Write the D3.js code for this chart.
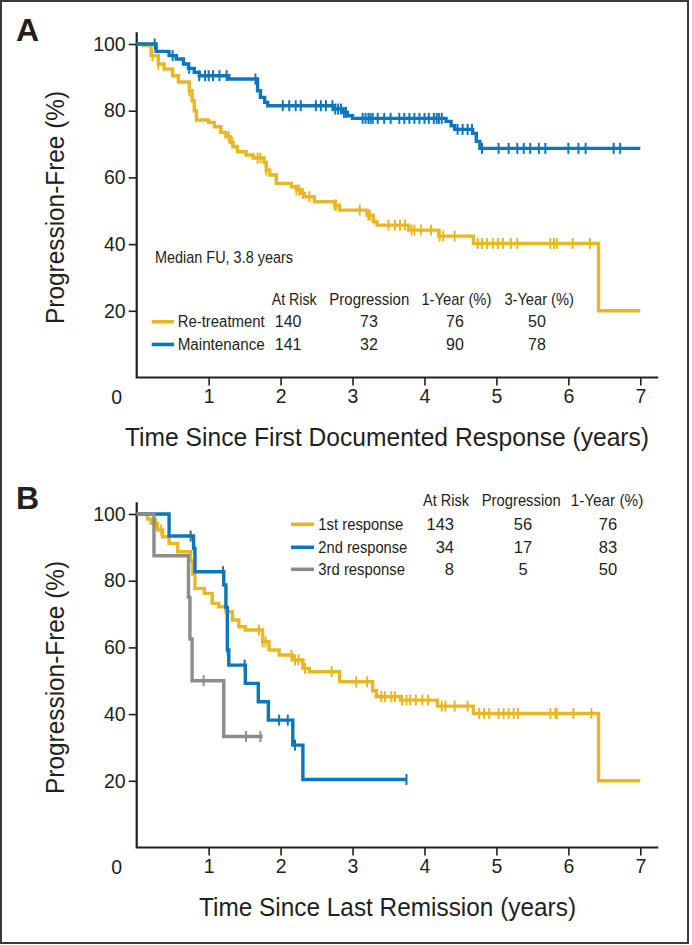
<!DOCTYPE html>
<html><head><meta charset="utf-8">
<script src="https://cdn.jsdelivr.net/npm/d3@7"></script>
<style>
html,body{margin:0;padding:0;background:#fff;}
svg{display:block;}
text{font-family:"Liberation Sans Narrow","Liberation Sans",Arial,sans-serif;fill:#231f20;}
</style></head>
<body><svg id="c" width="692" height="945"></svg>
<script>
// ---------- DATA ----------
const xTicks = [1,2,3,4,5,6,7];
const yTicks = [20,40,60,80,100];

// Panel A: Re-treatment (time in years, % progression-free)
const retreatA = [[0,100],[0.09,99.5],[0.2,96.5],[0.3,94],[0.38,92.5],[0.5,90.5],[0.58,88.6],[0.73,86],[0.77,83],[0.8,80],[0.83,77.2],[1.0,76.5],[1.08,75.2],[1.17,73.5],[1.24,72.2],[1.3,70.5],[1.34,69.2],[1.4,67.7],[1.52,66.7],[1.62,65.8],[1.77,64.5],[1.8,62.2],[1.85,60.7],[1.94,58.2],[2.15,57.2],[2.22,56.2],[2.28,55.2],[2.33,54.2],[2.47,52.7],[2.75,51.7],[2.82,50.2],[3.2,48.7],[3.29,46.7],[3.34,45.7],[3.78,44.2],[4.2,42.4],[4.68,40.2],[6.42,20],[7,20]];
const retreatACens = [0.22,0.3,0.73,1.28,1.33,1.68,1.72,1.8,2.22,2.26,2.31,2.4,2.75,2.77,3.1,3.22,3.24,3.5,3.59,3.66,3.73,3.82,3.86,3.95,4.09,4.21,4.26,4.42,4.74,4.8,4.87,4.95,5.02,5.09,5.2,5.29,5.75,5.8,5.84,6.06,6.3];
// Panel A: Maintenance
const maintA = [[0,100],[0.27,97.8],[0.45,96.5],[0.55,95.5],[0.65,94],[0.72,92.7],[0.8,91.5],[0.87,90.5],[1.28,89.5],[1.68,86],[1.72,84],[1.78,82.5],[1.82,81.5],[2.75,80.5],[2.85,79.5],[2.93,78.5],[3.0,77.7],[4.3,76.8],[4.37,75.5],[4.42,74.4],[4.67,73.2],[4.72,70.8],[4.77,68.7],[7,68.7]];
const maintACens = [0.25,0.5,0.73,0.87,0.95,1.0,1.06,1.15,1.25,1.65,2.03,2.12,2.21,2.28,2.49,2.56,2.63,2.72,2.76,2.8,2.84,2.88,2.91,3.14,3.18,3.22,3.25,3.28,3.35,3.44,3.53,3.65,3.72,3.79,3.86,3.93,4.0,4.06,4.13,4.17,4.2,4.24,4.46,4.53,4.6,4.66,4.8,5.03,5.17,5.29,5.38,5.47,5.59,5.68,6.0,6.14,6.24,6.63,6.72];

// Panel B
const firstB = [[0,100],[0.15,98.5],[0.2,97.2],[0.29,95.2],[0.36,93.2],[0.45,91.2],[0.57,88.7],[0.75,86],[0.78,82],[0.81,77.7],[0.94,76.2],[1.05,73.2],[1.14,72.2],[1.24,70.7],[1.33,68.2],[1.42,66.2],[1.51,65.2],[1.75,61.7],[1.84,59.2],[1.98,57.7],[2.17,56.2],[2.31,53.7],[2.4,52.7],[2.82,49.7],[3.28,47],[3.33,45.2],[3.67,44.2],[4.18,42.4],[4.68,40.2],[6.42,20],[7,20]];
const firstBCens = [0.27,0.34,1.7,1.75,1.79,2.15,2.2,2.25,2.34,2.71,3.05,3.2,3.4,3.45,3.54,3.59,3.69,3.75,3.8,3.88,3.97,4.05,4.24,4.29,4.42,4.6,4.76,4.83,4.9,5.03,5.1,5.17,5.24,5.3,5.75,5.82,5.84,6.07,6.32];
const secondB = [[0,100],[0.45,93.4],[0.79,89.7],[0.81,82.7],[1.21,78.7],[1.24,72],[1.26,59.2],[1.28,54.7],[1.51,49.2],[1.69,43.7],[1.83,38.2],[2.17,30.7],[2.31,20.4],[3.75,20.4]];
const secondBCens = [0.75,0.8,1.2,1.265,1.5,1.98,2.1,2.2,3.75];
const thirdB = [[0,100],[0.24,87.5],[0.72,75],[0.74,62.5],[0.77,50],[1.21,33.3],[1.75,33.3]];
const thirdBCens = [0.93,1.52,1.72];

const tableAHeaders = ["At Risk","Progression","1-Year (%)","3-Year (%)"];
const tableARows = [
  {name:"Re-treatment", vals:["140","73","76","50"]},
  {name:"Maintenance",  vals:["141","32","90","78"]}
];
const tableBHeaders = ["At Risk","Progression","1-Year (%)"];
const tableBRows = [
  {name:"1st response", vals:["143","56","76"]},
  {name:"2nd response", vals:["34","17","83"]},
  {name:"3rd response", vals:["8","5","50"]}
];

// ---------- STYLE ----------
const YELLOW = "#E9B722", BLUE = "#0B76BE", GRAY = "#8C8C8C", INK = "#231f20";

const svg = d3.select("#c");
svg.append("rect").attr("x",1).attr("y",1).attr("width",687).attr("height",942)
   .attr("fill","none").attr("stroke","#3a3a3a").attr("stroke-width",2);

const x = d3.scaleLinear().domain([0,7]).range([136.7,640.3]);

function txt(g, s, px, py, o={}) {
  const t = g.append("text").attr("x",px).attr("y",py).text(s)
    .style("font-size",(o.size||17)+"px");
  if (o.anchor) t.attr("text-anchor",o.anchor);
  if (o.len) t.attr("textLength",o.len).attr("lengthAdjust","spacingAndGlyphs");
  if (o.weight) t.style("font-weight",o.weight);
  if (o.family) t.style("font-family",o.family);
  return t;
}

function stepAt(data, t) {
  let v = data[0][1];
  for (const d of data) { if (d[0] <= t) v = d[1]; else break; }
  return v;
}

function panel(y, series, label, labelY, xTitle, xTitleX, xTitleLen) {
  const g = svg.append("g");
  const sans = '"Liberation Sans",Arial,sans-serif';
  // y axis
  const ya = g.append("g").attr("transform",`translate(${x(0)},0)`)
    .call(d3.axisLeft(y).tickValues(yTicks).tickFormat(d3.format("d")).tickSize(8).tickPadding(3).tickSizeOuter(0));
  ya.select(".domain").remove();
  ya.selectAll(".tick line").attr("stroke",INK).attr("stroke-width",1.6);
  ya.selectAll(".tick text").style("font-size","19.5px").style("font-family",sans).attr("fill",INK);
  // x axis
  const xa = g.append("g").attr("transform",`translate(0,${y(0)})`)
    .call(d3.axisBottom(x).tickValues(xTicks).tickFormat(d3.format("d")).tickSize(8).tickPadding(4).tickSizeOuter(0));
  xa.select(".domain").remove();
  xa.selectAll(".tick line").attr("stroke",INK).attr("stroke-width",1.6);
  xa.selectAll(".tick text").style("font-size","19.5px").style("font-family",sans).attr("fill",INK);
  // origin label
  txt(g,"0",x(0)-20,y(0)+26,{size:19.5,anchor:"middle",family:sans});
  // axis lines
  g.append("path").attr("d",`M${x(0)},${y(103.5)}V${y(0)}H${x(7.25)}`)
    .attr("fill","none").attr("stroke",INK).attr("stroke-width",2.2);
  // curves
  const line = d3.line().x(d=>x(d[0])).y(d=>y(d[1])).curve(d3.curveStepAfter);
  series.forEach(s=>{
    g.append("path").datum(s.data).attr("d",line).attr("fill","none")
      .attr("stroke",s.color).attr("stroke-width",3.4).attr("stroke-linejoin","miter");
    g.selectAll(null).data(s.cens).enter().append("line")
      .attr("x1",d=>x(d)).attr("x2",d=>x(d))
      .attr("y1",d=>y(stepAt(s.data,d))-5.5).attr("y2",d=>y(stepAt(s.data,d))+5.5)
      .attr("stroke",s.color).attr("stroke-width",2);
  });
  // titles
  txt(g,label,16,labelY,{size:32,weight:"bold",family:sans});
  const yt = y(51);
  g.append("text").attr("transform",`translate(64,${yt}) rotate(-90)`)
    .attr("text-anchor","middle").text("Progression-Free (%)")
    .style("font-size","26px").attr("textLength",233).attr("lengthAdjust","spacingAndGlyphs");
  txt(g,xTitle,xTitleX,y(0)+68,{size:26,len:xTitleLen});
  return g;
}

const yA = d3.scaleLinear().domain([0,100]).range([377.5,44]);
const yB = d3.scaleLinear().domain([0,100]).range([847.5,514]);

const gA = panel(yA,[
  {data:retreatA,cens:retreatACens,color:YELLOW},
  {data:maintA,cens:maintACens,color:BLUE}
],"A",41,"Time Since First Documented Response (years)",125,524);

const gB = panel(yB,[
  {data:firstB,cens:firstBCens,color:YELLOW},
  {data:secondB,cens:secondBCens,color:BLUE},
  {data:thirdB,cens:thirdBCens,color:GRAY}
],"B",509,"Time Since Last Remission (years)",199,377);

// ---------- Panel A annotation table ----------
txt(gA,"Median FU, 3.8 years",155,263,{len:138});
const hA = [[271.7,45],[329.3,80],[421.4,70],[504.4,69.5]];
tableAHeaders.forEach((h,i)=>txt(gA,h,hA[i][0],305,{len:hA[i][1]}));
const colA = [{x:301.5,a:"end"},{x:369,a:"middle"},{x:455,a:"middle"},{x:537,a:"middle"}];
const colorsA = [YELLOW,BLUE];
const rowA = [327.3,350];
tableARows.forEach((r,i)=>{
  gA.append("line").attr("x1",151.7).attr("x2",174).attr("y1",rowA[i]-5.5).attr("y2",rowA[i]-5.5)
    .attr("stroke",colorsA[i]).attr("stroke-width",3.6);
  txt(gA,r.name,177.7,rowA[i],{len:87,size:16});
  r.vals.forEach((v,j)=>txt(gA,v,colA[j].x,rowA[i],{anchor:colA[j].a,size:16}));
});

// ---------- Panel B legend table ----------
const hB = [[423,46],[481.7,79],[570.7,72.6]];
tableBHeaders.forEach((h,i)=>txt(gB,h,hB[i][0],506,{len:hB[i][1]}));
const colB = [{x:454,a:"end"},{x:523,a:"middle"},{x:608,a:"middle"}];
const colorsB = [YELLOW,BLUE,GRAY];
const rowB = [530,553,575];
const nameLenB = [85,89,86.7];
tableBRows.forEach((r,i)=>{
  gB.append("line").attr("x1",291).attr("x2",314).attr("y1",rowB[i]-5.7).attr("y2",rowB[i]-5.7)
    .attr("stroke",colorsB[i]).attr("stroke-width",3.6);
  txt(gB,r.name,318.3,rowB[i],{len:nameLenB[i]});
  r.vals.forEach((v,j)=>txt(gB,v,colB[j].x,rowB[i],{anchor:colB[j].a,size:16.5}));
});
</script></body></html>
